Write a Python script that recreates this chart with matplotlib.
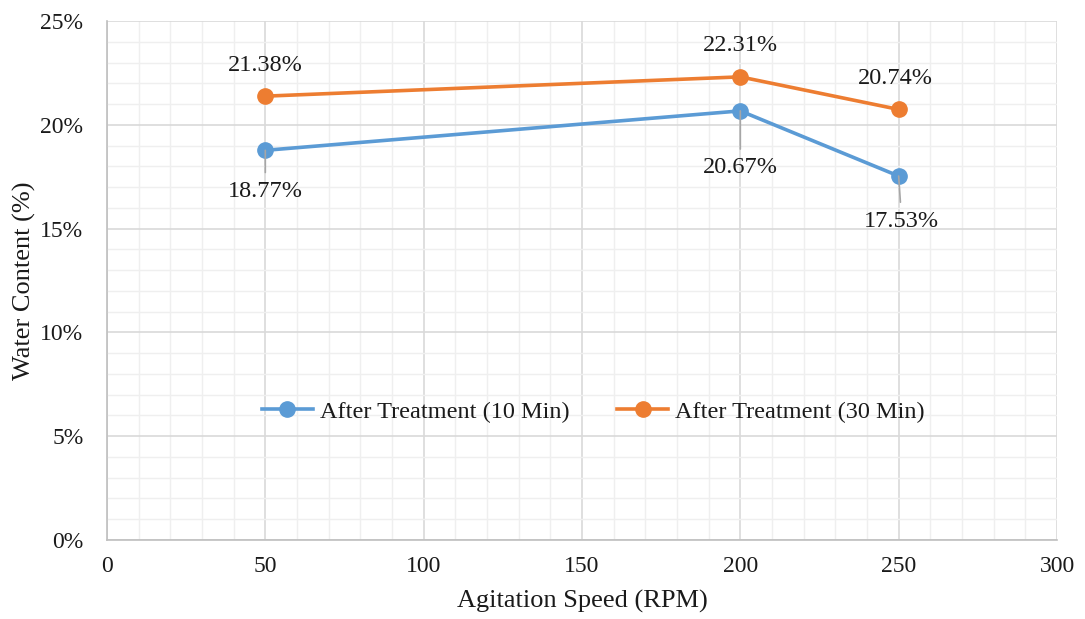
import numpy as np
import matplotlib
matplotlib.use("Agg")
import matplotlib.pyplot as plt
from matplotlib.ticker import MultipleLocator, FuncFormatter

plt.rcParams['font.family'] = ['Liberation Serif', 'DejaVu Serif']

speed = [50, 200, 250]
water_10 = [18.77, 20.67, 17.53]
water_30 = [21.38, 22.31, 20.74]
label_10 = "After Treatment (10 Min)"
label_30 = "After Treatment (30 Min)"

blue = "#5B9BD5"
orange = "#ED7D31"
txt = "#1a1a1a"

fig = plt.figure(figsize=(10.85, 6.19), dpi=100)
ax = fig.add_axes([0.0986, 0.128, 0.8756, 0.838])

ax.plot(speed, water_10, color=blue, lw=2.6, marker="o", ms=11, label=label_10, zorder=3)
ax.plot(speed, water_30, color=orange, lw=2.6, marker="o", ms=11, label=label_30, zorder=3)

# data labels
offs_10 = [(0, -41), (0, -57), (3, -45)]
offs_30 = [(0, 31), (0, 31), (-3, 31)]
for x, y, o in zip(speed, water_10, offs_10):
    ax.annotate(f"{y:.2f}%", (x, y), xytext=o, textcoords="offset pixels",
                ha="center", va="center", fontsize=17.5, color=txt,
                arrowprops=dict(arrowstyle="-", color="#A6A6A6", lw=1.2,
                                shrinkA=4, shrinkB=0), zorder=4)
for x, y, o in zip(speed, water_30, offs_30):
    ax.annotate(f"{y:.2f}%", (x, y), xytext=o, textcoords="offset pixels",
                ha="center", va="center", fontsize=17.5, color=txt, zorder=4)

ax.set_xlim(0, 300)
ax.set_ylim(0, 25)
ax.xaxis.set_major_locator(MultipleLocator(50))
ax.xaxis.set_minor_locator(MultipleLocator(10))
ax.yaxis.set_major_locator(MultipleLocator(5))
ax.yaxis.set_minor_locator(MultipleLocator(1))
ax.yaxis.set_major_formatter(FuncFormatter(lambda v, p: f"{v:.0f}%"))

ax.grid(which="major", color="#D9D9D9", lw=1.2, zorder=0)
ax.grid(which="minor", color="#EFEFEF", lw=1.0, zorder=0)
ax.set_axisbelow(True)
ax.tick_params(which="both", length=0, labelsize=17, colors=txt)
ax.tick_params(axis="x", pad=12)
ax.tick_params(axis="y", pad=17)
for s in ["top", "right"]:
    ax.spines[s].set_visible(False)
for s in ["left", "bottom"]:
    ax.spines[s].set_color("#BFBFBF")
    ax.spines[s].set_linewidth(1.2)

ax.set_xlabel("Agitation Speed (RPM)", fontsize=19, color=txt, labelpad=9)
ax.set_ylabel("Water Content (%)", fontsize=19, color=txt, labelpad=3)

ax.legend(loc="center", bbox_to_anchor=(0.512, 0.247), ncol=2, frameon=False,
          fontsize=17.5, handlelength=2.1, columnspacing=1.95, handletextpad=0.3,
          labelcolor=txt)

fig.savefig("out.png", dpi=100)
